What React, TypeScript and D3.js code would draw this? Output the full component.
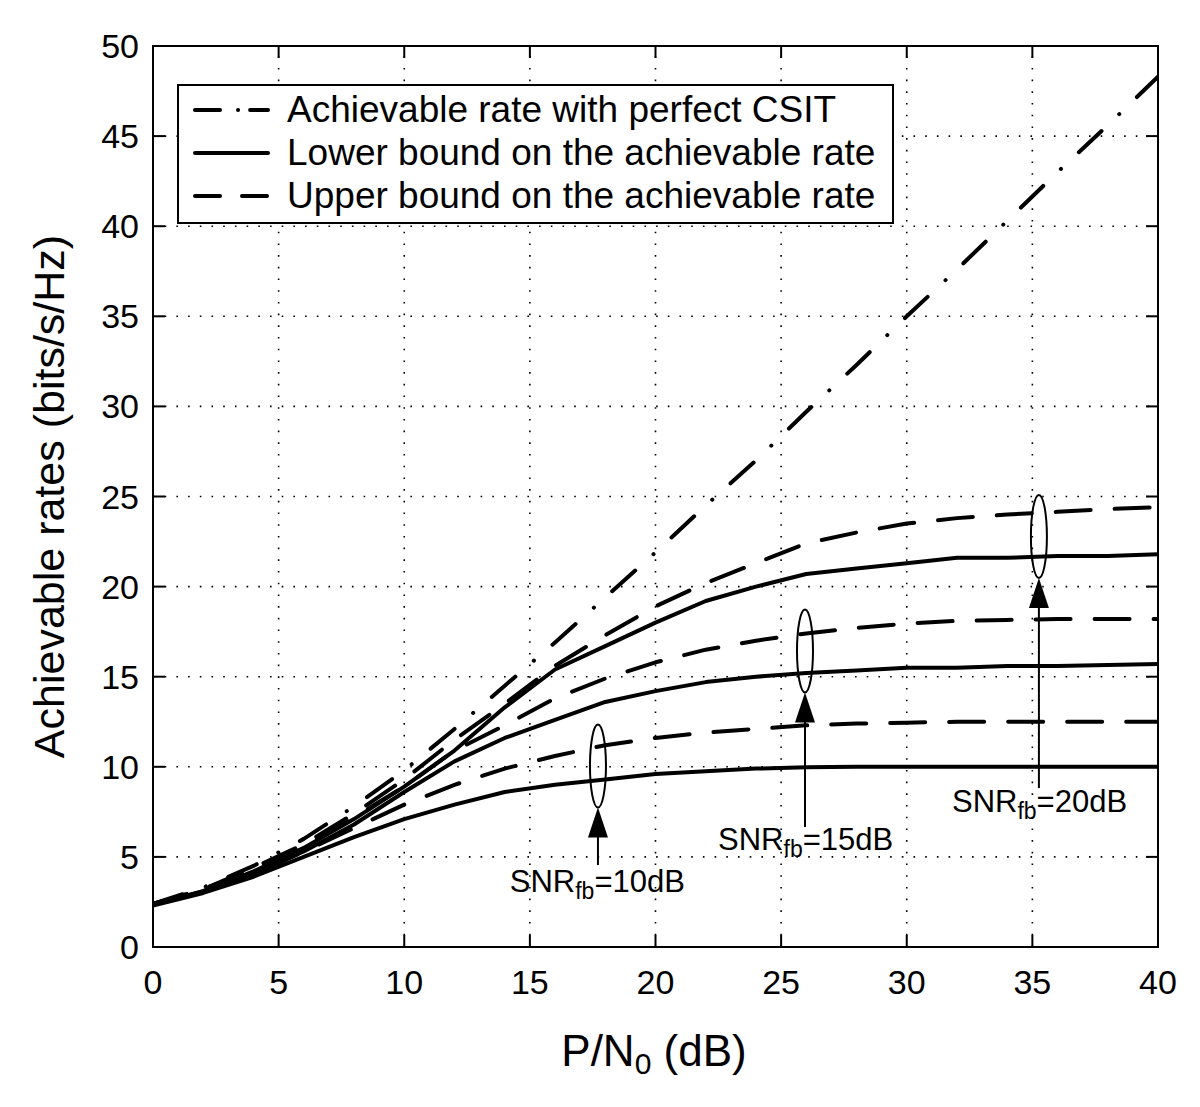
import React from "react";
import * as d3 from "d3";

const snr = [0, 2, 4, 6, 8, 10, 12, 14, 16, 18, 20, 22, 24, 26, 28, 30, 32, 34, 36, 38, 40];
const perfectCSIT = [2.4, 3.3, 4.5, 6.0, 7.8, 9.8, 12.1, 14.5, 16.9, 19.4, 21.9, 24.5, 27.0, 29.7, 32.3, 35.0, 37.6, 40.3, 43.0, 45.6, 48.3];
const lb10 = [2.3, 3.0, 3.9, 5.0, 6.1, 7.1, 7.9, 8.6, 9.0, 9.3, 9.6, 9.75, 9.9, 9.97, 10.0, 10.0, 10.0, 10.0, 10.0, 10.0, 10.0];
const ub10 = [2.4, 3.1, 4.0, 5.3, 6.6, 7.9, 9.0, 9.9, 10.6, 11.2, 11.6, 11.9, 12.1, 12.3, 12.4, 12.45, 12.5, 12.5, 12.5, 12.5, 12.5];
const lb15 = [2.35, 3.1, 4.1, 5.3, 6.8, 8.6, 10.3, 11.6, 12.6, 13.6, 14.2, 14.7, 15.0, 15.2, 15.35, 15.5, 15.5, 15.6, 15.6, 15.65, 15.7];
const ub15 = [2.4, 3.2, 4.3, 5.6, 7.2, 8.9, 10.9, 12.3, 13.8, 14.9, 15.8, 16.5, 17.0, 17.4, 17.7, 17.95, 18.1, 18.15, 18.2, 18.2, 18.2];
const lb20 = [2.35, 3.1, 4.2, 5.5, 7.1, 8.9, 10.9, 13.3, 15.4, 16.7, 18.0, 19.2, 20.0, 20.7, 21.0, 21.3, 21.6, 21.6, 21.7, 21.7, 21.8];
const ub20 = [2.4, 3.2, 4.4, 5.7, 7.4, 9.3, 11.5, 13.5, 15.6, 17.3, 18.9, 20.2, 21.3, 22.4, 23.0, 23.5, 23.8, 24.0, 24.15, 24.3, 24.4];

const xTicks = [0, 5, 10, 15, 20, 25, 30, 35, 40];
const yTicks = [0, 5, 10, 15, 20, 25, 30, 35, 40, 45, 50];

const legendLabels = [
  "Achievable rate with perfect CSIT",
  "Lower bound on the achievable rate",
  "Upper bound on the achievable rate",
];

// annotation data (in data units)
const annSnr = ["10", "15", "20"];
const annX = [17.71, 25.95, 35.26];
const annCy = [10.04, 16.43, 22.78];
const annTail = [4.55, 6.66, 8.82];
const annLabelX = [14.2, 22.49, 31.8];
const annLabelY = [3.05, 5.38, 7.49];

const W = 1200;
const H = 1107;
const L = 153, R = 1158, T = 46, B = 947;
const FONT = "'Liberation Sans', Arial, Helvetica, sans-serif";

const DASHDOT = "31 24.5 0.1 24.5";
const DASHED = "35 24";

export default function App() {
  const x = d3.scaleLinear().domain([0, 40]).range([L, R]);
  const y = d3.scaleLinear().domain([0, 50]).range([B, T]);
  const line = d3
    .line<number>()
    .x((_, i) => x(snr[i]))
    .y((d) => y(d));

  const series: { data: number[]; dash?: string }[] = [
    { data: perfectCSIT, dash: DASHDOT },
    { data: ub20, dash: DASHED },
    { data: lb20 },
    { data: ub15, dash: DASHED },
    { data: lb15 },
    { data: ub10, dash: DASHED },
    { data: lb10 },
  ];

  const tick = 12;
  const rx = 8;
  const ryPx = 41.5;
  const headLen = 30;
  const headHalf = 10;

  return (
    <div style={{ position: "absolute", left: 0, top: 0 }}>
      <svg width={W} height={H} viewBox={`0 0 ${W} ${H}`} style={{ display: "block", background: "#fff" }}>
        <rect x={0} y={0} width={W} height={H} fill="#fff" />
        <defs>
          <clipPath id="plotclip">
            <rect x={L} y={T} width={R - L} height={B - T} />
          </clipPath>
        </defs>
        {/* grid */}
        <g stroke="#000" strokeWidth={1.6} strokeDasharray="1.6 10.1">
          {xTicks.slice(1, -1).map((t) => (
            <line key={"gx" + t} x1={x(t)} x2={x(t)} y1={B} y2={T} />
          ))}
          {yTicks.slice(1, -1).map((t) => (
            <line key={"gy" + t} x1={L} x2={R} y1={y(t)} y2={y(t)} />
          ))}
        </g>
        {/* ticks */}
        <g stroke="#000" strokeWidth={2}>
          {xTicks.map((t) => (
            <g key={"tx" + t}>
              <line x1={x(t)} x2={x(t)} y1={B} y2={B - tick} />
              <line x1={x(t)} x2={x(t)} y1={T} y2={T + tick} />
            </g>
          ))}
          {yTicks.map((t) => (
            <g key={"ty" + t}>
              <line x1={L} x2={L + tick} y1={y(t)} y2={y(t)} />
              <line x1={R} x2={R - tick} y1={y(t)} y2={y(t)} />
            </g>
          ))}
        </g>
        {/* data lines */}
        <g clipPath="url(#plotclip)" fill="none" stroke="#000" strokeWidth={4} strokeLinecap="round" strokeLinejoin="round">
          {series.map((s, i) => (
            <path key={"s" + i} d={line(s.data) || ""} strokeDasharray={s.dash} />
          ))}
        </g>
        {/* annotations */}
        {annSnr.map((s, i) => {
          const cx = x(annX[i]);
          const cy = y(annCy[i]);
          const tip = cy + ryPx;
          const tail = y(annTail[i]);
          return (
            <g key={"ann" + s}>
              <ellipse cx={cx} cy={cy} rx={rx} ry={ryPx} fill="none" stroke="#000" strokeWidth={2} />
              <line x1={cx} x2={cx} y1={tail} y2={tip + headLen - 2} stroke="#000" strokeWidth={2} />
              <path
                d={`M${cx},${tip} L${cx - headHalf},${tip + headLen} L${cx + headHalf},${tip + headLen} Z`}
                fill="#000"
              />
              <text x={x(annLabelX[i])} y={y(annLabelY[i])} fontFamily={FONT} fontSize={31} fill="#000">
                SNR
                <tspan fontSize={23} dy={7}>fb</tspan>
                <tspan dy={-7}>={s}dB</tspan>
              </text>
            </g>
          );
        })}
        {/* frame */}
        <rect x={L} y={T} width={R - L} height={B - T} fill="none" stroke="#000" strokeWidth={2} />
        {/* tick labels */}
        <g fontFamily={FONT} fontSize={34} fill="#000">
          {xTicks.map((t) => (
            <text key={"lx" + t} x={x(t)} y={994} textAnchor="middle">
              {t}
            </text>
          ))}
          {yTicks.map((t) => (
            <text key={"ly" + t} x={139} y={y(t) + 12} textAnchor="end">
              {t}
            </text>
          ))}
        </g>
        {/* axis labels */}
        <text x={654} y={1066} textAnchor="middle" fontFamily={FONT} fontSize={44} fill="#000">
          P/N
          <tspan fontSize={30} dy={8}>0</tspan>
          <tspan dy={-8}> (dB)</tspan>
        </text>
        <text
          transform={`translate(64, ${(T + B) / 2}) rotate(-90)`}
          textAnchor="middle"
          fontFamily={FONT}
          fontSize={43}
          fill="#000"
        >
          Achievable rates (bits/s/Hz)
        </text>
        {/* legend */}
        <g>
          <rect x={178} y={85} width={715} height={138} fill="#fff" stroke="#000" strokeWidth={2} />
          {legendLabels.map((lab, i) => {
            const ly = 110 + i * 43;
            const dash = i === 0 ? "25 18 0.1 12" : i === 2 ? "25 22" : undefined;
            return (
              <g key={"lg" + i}>
                <line x1={195} x2={268} y1={ly} y2={ly} stroke="#000" strokeWidth={4} strokeLinecap="round" strokeDasharray={dash} />
                <text x={287} y={ly + 12} fontFamily={FONT} fontSize={37} fill="#000">
                  {lab}
                </text>
              </g>
            );
          })}
        </g>
      </svg>
    </div>
  );
}
